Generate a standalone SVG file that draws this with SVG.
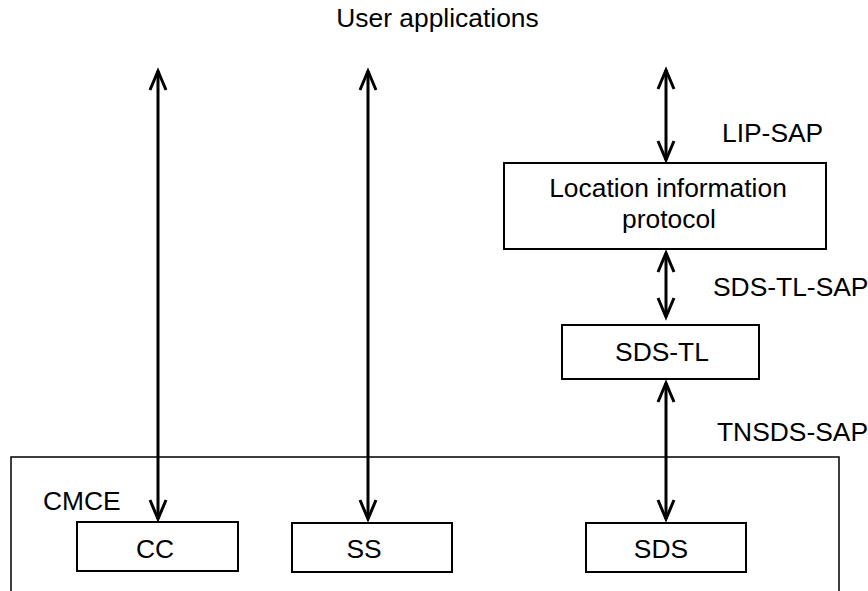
<svg xmlns="http://www.w3.org/2000/svg" width="868" height="591" viewBox="0 0 868 591">
<style>
text{font-family:"Liberation Sans",Arial,sans-serif;font-size:26.4px;fill:#000}
.c{text-anchor:middle}
.box{fill:#fff;stroke:#000;stroke-width:2}
.cmce{fill:none;stroke:#000;stroke-width:1.5}
.arr{stroke:#000;stroke-width:3;fill:none;marker-start:url(#ah);marker-end:url(#ah)}
</style>
<defs>
<marker id="ah" markerUnits="userSpaceOnUse" viewBox="-22 -11 26 22" refX="0" refY="0" markerWidth="26" markerHeight="22" orient="auto-start-reverse">
<path d="M-19,-8 L0,0 L-19,8" fill="none" stroke="#000" stroke-width="3" stroke-linejoin="miter"/>
</marker>
</defs>
<rect width="868" height="591" fill="#fff"/>
<text class="c" x="437.5" y="27">User applications</text>
<g id="cmce">
<rect class="cmce" x="11" y="457" width="828" height="160"/>
<text x="43" y="510">CMCE</text>
</g>
<g id="cc">
<rect class="box" x="77" y="522" width="161" height="49"/>
<text class="c" x="155" y="558">CC</text>
</g>
<g id="ss">
<rect class="box" x="292" y="523" width="160" height="49"/>
<text class="c" x="364" y="558">SS</text>
</g>
<g id="sds">
<rect class="box" x="586" y="523" width="160" height="49"/>
<text class="c" x="661" y="558">SDS</text>
</g>
<g id="lip">
<rect class="box" x="504" y="163" width="322" height="86"/>
<text class="c" x="668" y="197">Location information</text>
<text class="c" x="669" y="228">protocol</text>
</g>
<g id="sdstl">
<rect class="box" x="562" y="325" width="197" height="54"/>
<text class="c" x="662" y="361">SDS-TL</text>
</g>
<g id="labels">
<text x="722" y="142">LIP-SAP</text>
<text x="713" y="296">SDS-TL-SAP</text>
<text x="717" y="441">TNSDS-SAP</text>
</g>
<g id="connectors">
<line class="arr" x1="158" y1="71" x2="158" y2="519"/>
<line class="arr" x1="368" y1="71" x2="368" y2="519"/>
<line class="arr" x1="666" y1="70" x2="666" y2="160"/>
<line class="arr" x1="666" y1="253" x2="666" y2="317"/>
<line class="arr" x1="666" y1="383" x2="666" y2="519"/>
</g>
</svg>
